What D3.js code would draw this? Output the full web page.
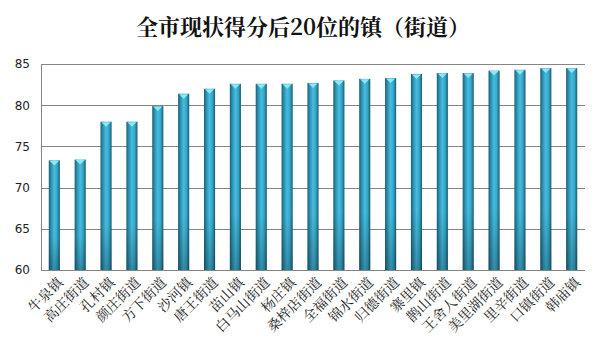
<!DOCTYPE html>
<html><head><meta charset="utf-8">
<script src="https://cdn.jsdelivr.net/npm/d3@7/dist/d3.min.js"></script>
<style>body{margin:0;background:#fff}svg{display:block}</style>
</head><body>
<svg id="c" width="606" height="344"></svg>
<script>
const title = "全市现状得分后20位的镇（街道）";
const categories = ["牛泉镇","高庄街道","孔村镇","颜庄街道","方下街道","沙河镇","唐王街道","苗山镇","白马山街道","杨庄镇","桑梓店街道","全福街道","锦水街道","归德街道","寨里镇","鹊山街道","王舍人街道","美里湖街道","里辛街道","口镇街道","韩庙镇"];
const scores = [73.3,73.4,78.0,78.0,79.9,81.4,82.0,82.6,82.6,82.6,82.7,83.0,83.2,83.3,83.8,83.9,83.9,84.2,84.3,84.5,84.5];
const yTicks = [60,65,70,75,80,85];

const svg = d3.select("#c");
const m = {l:41, r:21, t:64, b:74};
const W = 606, H = 344;
const x = d3.scaleBand().domain(categories).range([m.l, W-m.r]).paddingInner(0.57).paddingOuter(0.3);
const y = d3.scaleLinear().domain([60,85]).range([H-m.b, m.t]);

const defs = svg.append("defs");
const g = defs.append("linearGradient").attr("id","bar").attr("x1","0").attr("x2","1").attr("y1","0").attr("y2","0");
[[0,"#1a6176"],[0.25,"#2f97b8"],[0.5,"#45bde0"],[0.75,"#38a6c7"],[1,"#195c70"]].forEach(([o,c])=>g.append("stop").attr("offset",o).attr("stop-color",c));
const gv = defs.append("linearGradient").attr("id","shade").attr("x1","0").attr("x2","0").attr("y1","0").attr("y2","1");
[[0,"#000",0],[0.7,"#000",0],[1,"#000",0.25]].forEach(([o,c,a])=>gv.append("stop").attr("offset",o).attr("stop-color",c).attr("stop-opacity",a));

svg.append("text").attr("x",W/2).attr("y",35).attr("text-anchor","middle")
  .attr("font-family","'Noto Serif CJK SC','Noto Sans CJK SC',serif").attr("font-weight","bold")
  .attr("font-size",22).attr("fill","#111").text(title);

// grid
svg.append("g").selectAll("line").data(yTicks).join("line")
  .attr("x1",m.l).attr("x2",W-m.r).attr("y1",d=>Math.round(y(d))+0.5).attr("y2",d=>Math.round(y(d))+0.5)
  .attr("stroke","#858585").attr("stroke-width",1);
svg.append("line").attr("x1",m.l+0.5).attr("x2",m.l+0.5).attr("y1",y(85)).attr("y2",y(60)+0.5).attr("stroke","#858585");

const yAxis = d3.axisLeft(y).tickValues(yTicks).tickSize(0).tickPadding(11);
const ya = svg.append("g").attr("transform",`translate(${m.l},0)`).call(yAxis);
ya.select(".domain").remove();
ya.selectAll("text").attr("font-family","'DejaVu Sans',Verdana,sans-serif").attr("font-size",12).attr("fill","#222");

// bars
const bars = svg.append("g");
bars.selectAll("rect.b").data(scores).join("rect").attr("class","b")
  .attr("x",(d,i)=>x(categories[i])).attr("width",x.bandwidth())
  .attr("y",d=>y(d)).attr("height",d=>y(60)-y(d)).attr("fill","url(#bar)");
bars.selectAll("rect.s").data(scores).join("rect").attr("class","s")
  .attr("x",(d,i)=>x(categories[i])).attr("width",x.bandwidth())
  .attr("y",d=>y(d)).attr("height",d=>y(60)-y(d)).attr("fill","url(#shade)");
bars.selectAll("path.cap").data(scores).join("path").attr("class","cap")
  .attr("d",(d,i)=>{const x0=x(categories[i]), w=x.bandwidth(), t=y(d);
    return `M${x0+1},${t+0.5}L${x0+w-1},${t+0.5}L${x0+w/2},${t+5}Z`;})
  .attr("fill","#8ae8f7");

// x labels
const xa = svg.append("g");
xa.selectAll("text").data(categories).join("text")
  .attr("transform",d=>`translate(${x(d)+x.bandwidth()/2+6},${y(60)+10}) rotate(-45)`)
  .attr("text-anchor","end").attr("dy","0.35em")
  .attr("font-family","'Noto Serif CJK SC','Noto Sans CJK SC',serif")
  .attr("font-size",14).attr("fill","#222").text(d=>d);
</script>
</body></html>
